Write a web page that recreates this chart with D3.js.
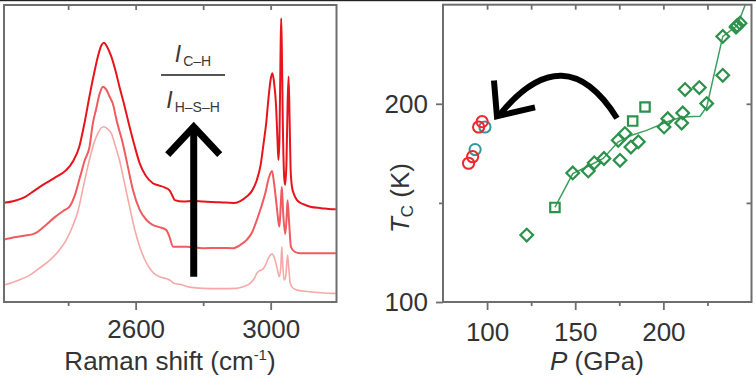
<!DOCTYPE html>
<html><head><meta charset="utf-8">
<script src="https://cdn.jsdelivr.net/npm/d3@7"></script>
<style>body{margin:0;background:#fff} svg{display:block}</style>
</head><body><script>
// ---------- Left panel: Raman spectra ----------
const shiftTop = [2210,2240,2270,2300,2330,2360,2394,2415,2433,2448,2463,2476,2488,2498,2506,2516,2528,2540,2552,2567,2582,2597,2612,2630,2651,2670,2685,2701,2710,2716,2741,2770,2800,2850,2889,2910,2929,2945,2959,2970,2979,2987,2993,3000,3005,3010,3016,3020,3023,3026,3029,3031,3033,3036,3040,3043,3047,3050,3053,3056,3059,3063,3070,3078,3095,3117,3150,3182,3193];
const intensityTop = [33.4,34.0,35.2,37.5,39.8,41.8,44.4,47.5,52.3,60,69.1,76.5,82.6,86.3,87.3,85.8,82.6,78,72.5,66,59.0,52.5,46.7,42.5,40.0,39.2,38.6,37.5,35.5,34.3,33.8,34.0,33.8,33.6,33.3,34.0,35.5,37.5,41.1,46,53.4,60.5,68.0,75,77.0,74,66,55,47.8,55,82,95.5,86,60,42,39.4,48,66,75.9,62,45,38.8,36,34.3,33.0,32.1,31.6,31.2,31.2];

const shiftMid = [2210,2240,2270,2300,2330,2360,2390,2404,2420,2435,2450,2463,2473,2483,2493,2503,2513,2523,2532,2545,2562,2577,2592,2612,2632,2650,2670,2691,2700,2711,2751,2800,2850,2889,2910,2929,2945,2959,2972,2984,2995,3004,3010,3018,3023,3026,3030,3033,3037,3043,3047,3050,3054,3060,3070,3088,3140,3193];
const intensityMid = [21.0,21.8,22.3,23.0,25.5,28.5,31.0,32.1,36,42,48,52,60,65,70,72.5,71.5,69.1,66.9,60.5,53.4,45.5,37.7,31.0,27.6,26.0,25.2,24.2,22,18.6,18.6,18.1,18.2,18.1,19.2,20.9,23.5,27.6,32,36.6,42,44.1,40,32.1,27,25.4,33,38.8,30,22.9,28,34.3,28,18.6,17.0,16.4,16.4,16.4];

const shiftLow = [2210,2255,2290,2314,2345,2374,2395,2413,2430,2443,2456,2468,2478,2488,2497,2506,2517,2528,2540,2552,2567,2582,2597,2612,2627,2642,2656,2671,2701,2715,2731,2760,2800,2850,2899,2920,2939,2952,2959,2966,2974,2985,2993,3004,3012,3018,3026,3030,3033,3036,3040,3045,3050,3054,3058,3065,3078,3120,3182,3193];
const intensityLow = [5.7,7.4,9.3,11.3,14,17.5,21,25.4,31,37.7,44.5,50.1,54,56.8,58.5,59.0,58.2,56.8,52.5,47.8,40,32.1,24.5,18.6,14.3,11.3,9.5,8.5,7.4,6.2,6.0,5.0,4.6,4.5,4.6,5.2,6.3,8,9.7,10.5,10.8,12.5,14.7,16.2,14.5,11.9,8.5,12,18.6,12,7.4,9,15.8,11,6.3,4.8,4.0,3.4,2.9,2.9];

const ramanMajorTicks = [2600, 3000];
const ramanMinorTicks = [2400, 2800];
const ramanTopTicks = [2400, 2600, 2800, 3000];

// ---------- Right panel: Tc vs P ----------
const pressureGreen = [122.5,138.5,148.6,157.4,160.8,166.3,175.4,174.4,178.2,181.6,185.8,182.6,189.6,200.4,202.5,210.4,211.0,212.3,220.4,224.6,233.7,233.7,241.2,241.9,243.5];
const tcGreen =       [133.8,147.7,165.1,166.1,170.2,172.4,171.5,181.6,185.0,178.2,180.8,191.3,198.4,188.3,192.5,190.3,195.4,207.2,208.2,200.1,214.4,234.0,238.7,239.5,240.7];
const shapeGreen =    ['d','s','d','d','d','d','d','d','d','d','d','s','s','d','d','d','d','d','d','d','d','d','d','d','d'];

const pressureLine = [138.5,148.6,158.4,165.9,174.4,182.0,190.5,201.9,210.4,220.8,224.6,233.7,241.9,246.3,247.5];
const tcLine =       [147.7,164.8,169.0,172.4,180.8,184.1,186.6,190.8,193.3,193.7,198.4,234.0,239.5,249.6,255];

const pressureRed = [89.5,91.8,95.2,97.2];
const tcRed =       [170.0,173.3,188.3,191.0];
const pressureTeal = [93.2,98.8];
const tcTeal =       [176.9,188.3];

const pMajorTicks = [100,150,200];
const pMinorTicks = [125,175,225];
const pTopTicks = [100,125,150,175,200,225];
const tMajorTicks = [100,200];
const tMinorTicks = [150];
const tRightTicks = [150,200];

// annotation anchors (data units)
const ramanArrow = {x: 2772, y0: 8.5, y1: 59, armDx: 77, armY: 49.6};
const fraction = {x: 2770, num: 80.8, bar: 76.4, den: 65.3, barHalf: 95};
const tcArrow = {start:[173.7,192.7], ctrl:[144.2,234.5], tip:[105.6,193.7], arm1:[103.9,211.8], arm2:[127.2,198.2]};

// ---------- drawing ----------
const W = 756, H = 378;
const FONT = "'Liberation Sans', Arial, sans-serif";
const AX = "#6e6e6e", TXT = "#333";
const svg = d3.select("body").append("svg").attr("width", W).attr("height", H)
  .style("font-family", FONT);

svg.append("rect").attr("x",0).attr("y",0).attr("width",W).attr("height",1.2).attr("fill","#222");

function styleAxis(g, labels){
  g.select(".domain").remove();
  g.selectAll(".tick line").attr("stroke", AX).attr("stroke-width", 1.8);
  g.selectAll(".tick text").attr("fill", TXT).style("font-size","26px").style("font-family",FONT);
  if(!labels) g.selectAll(".tick text").remove();
}

// Left panel
const xR = d3.scaleLinear().domain([2210, 3195]).range([4, 336.5]);
const yI = d3.scaleLinear().domain([0, 100]).range([302, 5]);
const L = svg.append("g");
L.append("defs").append("clipPath").attr("id","clipL").append("rect")
  .attr("x", xR.range()[0]).attr("y", yI.range()[1]-1).attr("width", xR.range()[1]-xR.range()[0]).attr("height", yI.range()[0]-yI.range()[1]+1);

const lineR = d3.line().x(d=>xR(d[0])).y(d=>yI(d[1])).curve(d3.curveMonotoneX);
const spectra = [
  {s: shiftLow, i: intensityLow, c: "#f7a9a9", w: 1.6},
  {s: shiftMid, i: intensityMid, c: "#ef5b5e", w: 2.0},
  {s: shiftTop, i: intensityTop, c: "#e8141c", w: 2.0}
];
spectra.forEach(sp => {
  L.append("path").attr("clip-path","url(#clipL)")
    .attr("d", lineR(sp.s.map((v,k)=>[v, sp.i[k]])))
    .attr("fill","none").attr("stroke", sp.c).attr("stroke-width", sp.w).attr("stroke-linejoin","round");
});

// vertical arrow
L.append("line").attr("x1", xR(ramanArrow.x)).attr("x2", xR(ramanArrow.x))
  .attr("y1", yI(ramanArrow.y0)).attr("y2", yI(ramanArrow.y1)+4)
  .attr("stroke","#000").attr("stroke-width",7);
L.append("path").attr("d", d3.line()([
  [xR(ramanArrow.x - ramanArrow.armDx), yI(ramanArrow.armY)],
  [xR(ramanArrow.x), yI(ramanArrow.y1)],
  [xR(ramanArrow.x + ramanArrow.armDx), yI(ramanArrow.armY)]]))
  .attr("fill","none").attr("stroke","#000").attr("stroke-width",7).attr("stroke-linejoin","miter");

// fraction
const num = L.append("text").attr("x", xR(fraction.x)).attr("y", yI(fraction.num)).attr("text-anchor","middle").attr("fill","#3a3a3a");
num.append("tspan").attr("font-style","italic").style("font-size","23px").text("I");
num.append("tspan").attr("dx", 2).attr("dy", 4).style("font-size","14px").text("C\u2013H");
L.append("line").attr("x1", xR(fraction.x)-32).attr("x2", xR(fraction.x)+32)
  .attr("y1", yI(fraction.bar)).attr("y2", yI(fraction.bar)).attr("stroke","#555").attr("stroke-width",2);
const den = L.append("text").attr("x", xR(fraction.x)).attr("y", yI(fraction.den)).attr("text-anchor","middle").attr("fill","#3a3a3a");
den.append("tspan").attr("font-style","italic").style("font-size","23px").text("I");
den.append("tspan").attr("dx", 2).attr("dy", 4).style("font-size","14px").text("H\u2013S\u2013H");

// frame + axes
L.append("rect").attr("x", xR.range()[0]).attr("y", yI.range()[1]).attr("width", xR.range()[1]-xR.range()[0])
  .attr("height", yI.range()[0]-yI.range()[1]).attr("fill","none").attr("stroke",AX).attr("stroke-width",2);
L.append("g").attr("transform",`translate(0,${yI.range()[0]})`)
  .call(d3.axisBottom(xR).tickValues(ramanMajorTicks).tickSize(8).tickPadding(9.5).tickFormat(d3.format("d")))
  .call(g=>styleAxis(g,true));
L.append("g").attr("transform",`translate(0,${yI.range()[0]})`)
  .call(d3.axisBottom(xR).tickValues(ramanMinorTicks).tickSize(4)).call(g=>styleAxis(g,false));
L.append("g").attr("transform",`translate(0,${yI.range()[1]})`)
  .call(d3.axisTop(xR).tickValues(ramanTopTicks).tickSize(-5)).call(g=>styleAxis(g,false));
const xt = L.append("text").attr("x", 170).attr("y", 370).attr("text-anchor","middle").attr("fill",TXT).style("font-size","26px");
xt.append("tspan").text("Raman shift (cm");
xt.append("tspan").attr("dy",-10).style("font-size","15px").text("-1");
xt.append("tspan").attr("dy",10).text(")");

// Right panel
const xP = d3.scaleLinear().domain([75, 250]).range([443, 751.5]);
const yT = d3.scaleLinear().domain([100, 250]).range([302, 4.7]);
const R = svg.append("g");
R.append("defs").append("clipPath").attr("id","clipR").append("rect")
  .attr("x", xP.range()[0]).attr("y", yT.range()[1]).attr("width", xP.range()[1]-xP.range()[0]).attr("height", yT.range()[0]-yT.range()[1]);

R.append("path").attr("clip-path","url(#clipR)")
  .attr("d", d3.line().x(d=>xP(d[0])).y(d=>yT(d[1]))(pressureLine.map((v,k)=>[v, tcLine[k]])))
  .attr("fill","none").attr("stroke","#3f9f5f").attr("stroke-width",1.5);

const diamond = d3.symbol().type(d3.symbolSquare).size(80);
const square = d3.symbol().type(d3.symbolSquare).size(88);
R.append("g").attr("clip-path","url(#clipR)").selectAll("path.g").data(pressureGreen.map((v,k)=>({p:v,t:tcGreen[k],s:shapeGreen[k]})))
  .join("path")
  .attr("d", d=> d.s==='d' ? diamond() : square())
  .attr("transform", d=>`translate(${xP(d.p)},${yT(d.t)}) rotate(${d.s==='d'?45:0})`)
  .attr("fill","none").attr("stroke","#2c914a").attr("stroke-width",2.2);

R.append("g").selectAll("circle").data(pressureTeal.map((v,k)=>[v,tcTeal[k]])).join("circle")
  .attr("cx",d=>xP(d[0])).attr("cy",d=>yT(d[1])).attr("r",5.6)
  .attr("fill","none").attr("stroke","#2f9a9c").attr("stroke-width",2);
R.append("g").selectAll("circle").data(pressureRed.map((v,k)=>[v,tcRed[k]])).join("circle")
  .attr("cx",d=>xP(d[0])).attr("cy",d=>yT(d[1])).attr("r",5.6)
  .attr("fill","none").attr("stroke","#f2262b").attr("stroke-width",2);

// curved arrow
const P = a => [xP(a[0]), yT(a[1])];
const s = P(tcArrow.start), c = P(tcArrow.ctrl), t = P(tcArrow.tip);
R.append("path").attr("d", `M${s[0]},${s[1]} Q${c[0]},${c[1]} ${t[0]+3},${t[1]-2}`)
  .attr("fill","none").attr("stroke","#000").attr("stroke-width",6);
R.append("path").attr("d", d3.line()([P(tcArrow.arm1), t, P(tcArrow.arm2)]))
  .attr("fill","none").attr("stroke","#000").attr("stroke-width",6).attr("stroke-linejoin","miter");

R.append("rect").attr("x", xP.range()[0]).attr("y", yT.range()[1]).attr("width", xP.range()[1]-xP.range()[0])
  .attr("height", yT.range()[0]-yT.range()[1]).attr("fill","none").attr("stroke",AX).attr("stroke-width",2);
R.append("g").attr("transform",`translate(0,${yT.range()[0]})`)
  .call(d3.axisBottom(xP).tickValues(pMajorTicks).tickSize(8).tickPadding(13).tickFormat(d3.format("d")))
  .call(g=>styleAxis(g,true));
R.append("g").attr("transform",`translate(0,${yT.range()[0]})`)
  .call(d3.axisBottom(xP).tickValues(pMinorTicks).tickSize(4)).call(g=>styleAxis(g,false));
R.append("g").attr("transform",`translate(0,${yT.range()[1]})`)
  .call(d3.axisTop(xP).tickValues(pTopTicks).tickSize(-5)).call(g=>styleAxis(g,false));
R.append("g").attr("transform",`translate(${xP.range()[0]},0)`)
  .call(d3.axisLeft(yT).tickValues(tMajorTicks).tickSize(7).tickPadding(8).tickFormat(d3.format("d")))
  .call(g=>styleAxis(g,true));
R.append("g").attr("transform",`translate(${xP.range()[0]},0)`)
  .call(d3.axisLeft(yT).tickValues(tMinorTicks).tickSize(4)).call(g=>styleAxis(g,false));
R.append("g").attr("transform",`translate(${xP.range()[1]},0)`)
  .call(d3.axisRight(yT).tickValues(tRightTicks).tickSize(-5)).call(g=>styleAxis(g,false));

const pt = R.append("text").attr("x", 597).attr("y", 370).attr("text-anchor","middle").attr("fill",TXT).style("font-size","26px");
pt.append("tspan").attr("font-style","italic").text("P");
pt.append("tspan").text(" (GPa)");

const yt = R.append("text").attr("transform","translate(409,198) rotate(-90)").attr("text-anchor","middle").attr("fill",TXT).style("font-size","26px");
yt.append("tspan").attr("font-style","italic").text("T");
yt.append("tspan").attr("dy",4).style("font-size","17px").text("C");
yt.append("tspan").attr("dy",-4).text(" (K)");
</script></body></html>
